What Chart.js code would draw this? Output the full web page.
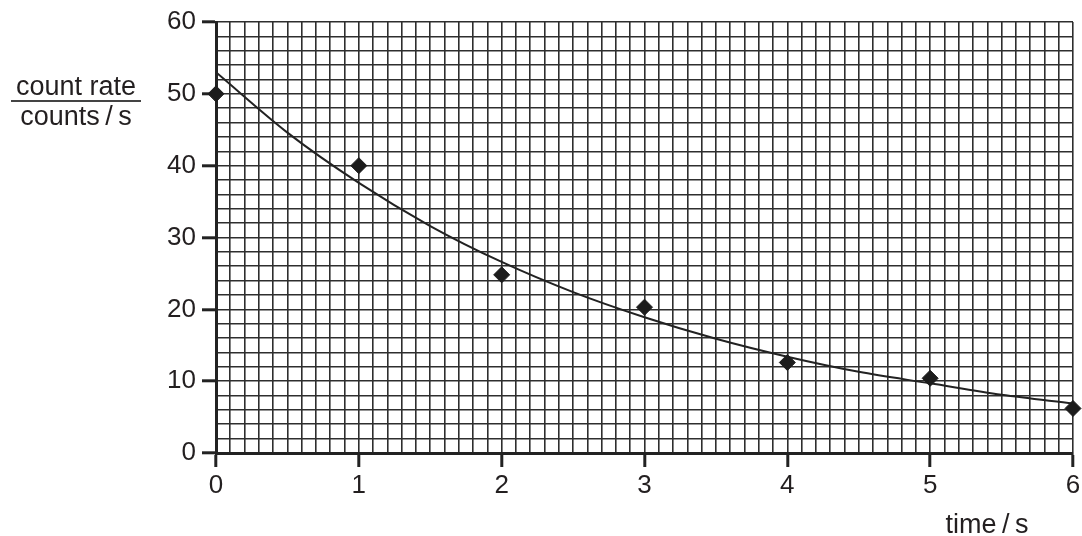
<!DOCTYPE html>
<html>
<head>
<meta charset="utf-8">
<title>count rate against time</title>
<script src="https://cdn.jsdelivr.net/npm/chart.js@4.4.1/dist/chart.umd.min.js"></script>
<style>
    body { margin: 0; background: #fff; }
    #wrap { width: 1082px; height: 536px; }
</style>
</head>
<body>
<div id="wrap"><canvas id="decayChart" width="1082" height="536"></canvas></div>
<script>
const times = [0, 1, 2, 3, 4, 5, 6];
const countRates = [50, 40, 24.8, 20.3, 12.6, 10.4, 6.2];

// best-fit curve, every 0.5 s
const curveTimes = [0, 0.5, 1, 1.5, 2, 2.5, 3, 3.5, 4, 4.5, 5, 5.5, 6];
const curveRates = [53, 44.6, 37.6, 31.6, 26.6, 22.4, 18.9, 15.9, 13.4, 11.3, 9.7, 8.1, 6.9];

const xLabels = ['0', '1', '2', '3', '4', '5', '6'];
const yLabels = ['0', '10', '20', '30', '40', '50', '60'];

const ink = '#231f20';
const fontFamily = '"Liberation Sans", Arial, sans-serif';

function isWhole(v, step) {
    const q = v / step;
    return Math.abs(q - Math.round(q)) < 1e-6;
}

// axis captions: fraction-style y label and x label at the right
const captions = {
    id: 'captions',
    afterDraw(chart) {
        const ctx = chart.ctx;
        ctx.save();
        ctx.fillStyle = ink;
        ctx.font = '27px ' + fontFamily;
        ctx.textAlign = 'center';
        ctx.textBaseline = 'alphabetic';
        ctx.fillText('count rate', 76, 95);
        ctx.fillText('counts\u2009/\u2009s', 76, 125);
        ctx.strokeStyle = '#444';
        ctx.lineWidth = 2;
        ctx.beginPath();
        ctx.moveTo(11, 101);
        ctx.lineTo(141, 101);
        ctx.stroke();
        ctx.fillText('time\u2009/\u2009s', 987, 533);
        ctx.restore();
    }
};

function initializeChart() {
    const ctx = document.getElementById('decayChart').getContext('2d');

    new Chart(ctx, {
        type: 'scatter',
        data: {
            datasets: [
                {
                    data: times.map((t, i) => ({ x: t, y: countRates[i] })),
                    pointStyle: 'rectRot',
                    pointRadius: 8,
                    pointBackgroundColor: '#1c1c1c',
                    pointBorderColor: '#1c1c1c',
                    showLine: false,
                    clip: false
                },
                {
                    data: curveTimes.map((t, i) => ({ x: t, y: curveRates[i] })),
                    showLine: true,
                    borderColor: '#222',
                    borderWidth: 2,
                    pointRadius: 0,
                    cubicInterpolationMode: 'monotone'
                }
            ]
        },
        options: {
            responsive: false,
            animation: false,
            layout: {
                padding: { left: 0, right: 0, top: 22, bottom: 0 }
            },
            plugins: {
                legend: { display: false },
                tooltip: { enabled: false }
            },
            scales: {
                x: {
                    type: 'linear',
                    min: 0,
                    max: 6,
                    afterFit: (scale) => {
                        scale.height = 83;
                        scale.paddingLeft = 0;
                        scale.paddingRight = 0;
                    },
                    border: { display: true, color: '#222', width: 3 },
                    grid: {
                        color: '#2e2e2e',
                        lineWidth: 1.6,
                        tickLength: 14,
                        tickColor: (c) => isWhole(c.tick.value, 1) ? '#222' : 'rgba(0,0,0,0)',
                        tickWidth: 3
                    },
                    ticks: {
                        stepSize: 0.1,
                        autoSkip: false,
                        maxRotation: 0,
                        padding: 3,
                        color: ink,
                        font: { family: fontFamily, size: 26 },
                        callback: (v) => isWhole(v, 1) ? xLabels[Math.round(v)] : ''
                    }
                },
                y: {
                    type: 'linear',
                    min: 0,
                    max: 60,
                    afterFit: (scale) => { scale.width = 216; },
                    border: { display: true, color: '#222', width: 3 },
                    grid: {
                        color: '#2e2e2e',
                        lineWidth: 1.6,
                        tickLength: 14,
                        tickColor: (c) => isWhole(c.tick.value, 10) ? '#222' : 'rgba(0,0,0,0)',
                        tickWidth: 3
                    },
                    ticks: {
                        stepSize: 2,
                        autoSkip: false,
                        padding: 6,
                        color: ink,
                        font: { family: fontFamily, size: 26 },
                        callback: (v) => isWhole(v, 10) ? yLabels[Math.round(v / 10)] : ''
                    }
                }
            }
        },
        plugins: [captions]
    });
}

document.addEventListener('DOMContentLoaded', () => {
    initializeChart();
});
</script>
</body>
</html>
